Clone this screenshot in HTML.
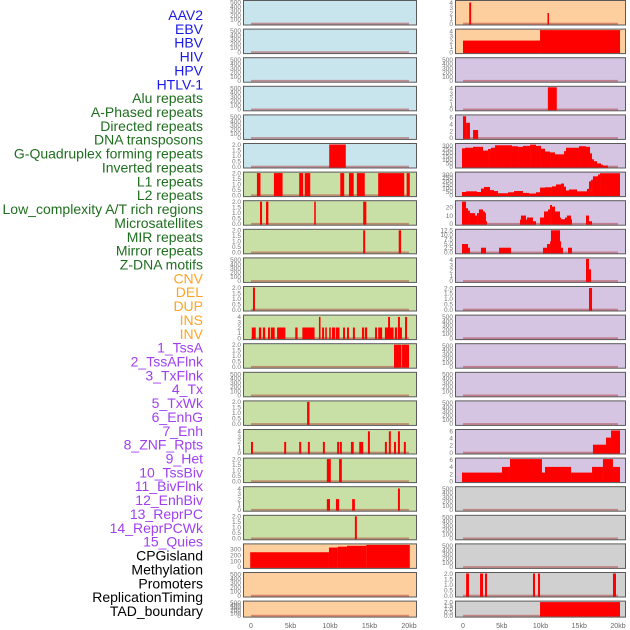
<!DOCTYPE html>
<html><head><meta charset="utf-8">
<style>
html,body{margin:0;padding:0;background:#fff;}
svg{display:block;font-family:"Liberation Sans",sans-serif;}
</style></head>
<body>
<svg id="chart" width="630" height="630" viewBox="0 0 630 630" xmlns="http://www.w3.org/2000/svg"></svg>
<script>
// ---- track labels ----
const labels = ["AAV2","EBV","HBV","HIV","HPV","HTLV-1","Alu repeats","A-Phased repeats","Directed repeats","DNA transposons","G-Quadruplex forming repeats","Inverted repeats","L1 repeats","L2 repeats","Low_complexity A/T rich regions","Microsatellites","MIR repeats","Mirror repeats","Z-DNA motifs","CNV","DEL","DUP","INS","INV","1_TssA","2_TssAFlnk","3_TxFlnk","4_Tx","5_TxWk","6_EnhG","7_Enh","8_ZNF_Rpts","9_Het","10_TssBiv","11_BivFlnk","12_EnhBiv","13_ReprPC","14_ReprPCWk","15_Quies","CPGisland","Methylation","Promoters","ReplicationTiming","TAD_boundary"];
const labelColors = ["#1a1ae6","#1a1ae6","#1a1ae6","#1a1ae6","#1a1ae6","#1a1ae6","#1f6e1f","#1f6e1f","#1f6e1f","#1f6e1f","#1f6e1f","#1f6e1f","#1f6e1f","#1f6e1f","#1f6e1f","#1f6e1f","#1f6e1f","#1f6e1f","#1f6e1f","#ffa424","#ffa424","#ffa424","#ffa424","#ffa424","#a040f0","#a040f0","#a040f0","#a040f0","#a040f0","#a040f0","#a040f0","#a040f0","#a040f0","#a040f0","#a040f0","#a040f0","#a040f0","#a040f0","#a040f0","#000","#000","#000","#000","#000"];
const xTicks = [0,5,10,15,20];
const xTickLabels = ["0","5kb","10kb","15kb","20kb"];

// ---- tick sets ----
const T500=[0,100,200,300,400,500], T2=[0,0.5,1,1.5,2], T4=[0,1,2,3,4], T6=[0,2,4,6];
const T300=[0,100,200,300], T250=[0,50,100,150,200,250,300], T20=[0,10,20], T125=[0,2.5,5,7.5,10,12.5];

// ---- data: segments [startKb, endKb, value] ----
const dHTLV=[[9.9,12.0,2]];
const dAlu=[[0.75,1.2,2],[2.9,4.0,2],[6.1,6.6,2],[6.8,7.5,2],[11.3,11.8,2],[12.4,13.0,2],[13.4,14.4,2],[16.1,19.4,2],[19.7,20.1,2]];
const dAPhased=[[1.14,1.4,2],[1.9,2.2,2],[8.0,8.2,2],[14.2,14.6,2]];
const dDirected=[[14.2,14.45,2],[18.7,19.0,2]];
const dGQuad=[[0.25,0.5,2]];
const dInverted=[[0.1,0.6,2],[1.0,1.3,2],[1.5,1.8,2],[2.15,2.4,2],[2.5,3.0,2],[3.3,4.35,2],[5.6,5.9,2],[6.5,8.05,2],[8.6,8.8,4],[9.0,9.25,2],[9.4,9.6,2],[9.9,10.1,2],[10.25,10.65,2],[10.75,11.2,2],[11.65,11.9,2],[12.15,12.4,2],[12.9,13.15,2],[14.05,14.3,2],[14.4,14.7,2],[15.7,15.95,2],[16.1,16.6,2],[16.95,18.05,2],[17.35,17.6,4],[18.2,18.5,2],[18.6,18.85,4],[18.85,19.1,2],[19.5,19.75,4]];
const dL1=[[18.1,19.05,2],[19.12,20.0,2]];
const dLowComp=[[7.1,7.4,2]];
const dMicro=[[0,0.25,2],[4.2,4.45,2],[6.1,6.35,2],[7.2,7.45,2],[9.1,9.35,2],[10.9,11.15,2],[11.25,11.5,2],[12.65,13.0,2],[13.7,14.2,2],[14.8,15.05,4],[16.95,17.2,2],[17.45,17.7,4],[18.1,18.35,2],[18.6,18.85,4],[19.35,19.6,2]];
const dMIR=[[9.6,10.1,2],[11.15,11.5,2]];
const dMirror=[[9.6,10.0,2],[10.75,11.15,2],[12.8,13.15,2],[18.6,18.85,4]];
const dZDNA=[[13.15,13.4,2]];
const dCNV=[[-0.1,9.87,250],[9.87,11.0,330],[11.0,12.15,345],[12.15,14.6,360],[14.6,20.1,375]];
const dINS=[[0.8,1.05,4],[10.9,11.1,2]];
const dINV=[[0,9.94,2.2],[9.94,20.26,4.2]];
const dTssAFlnk=[[10.95,12.1,4.2]];
const dTxFlnk=[[0,0.4,6.3],[0.4,0.9,4.4],[1.3,1.95,2.3]];
const dTx=[[-0.13,0.26,264],[0.26,1.29,273],[1.29,2.58,286],[2.58,3.23,232],[3.23,3.61,255],[3.61,4.13,273],[4.13,6.32,309],[6.32,7.10,295],[7.10,7.74,286],[7.74,8.65,300],[8.65,9.42,318],[9.42,10.06,300],[10.06,10.58,259],[10.58,11.23,218],[11.23,11.87,205],[11.87,13.03,177],[13.03,13.29,223],[13.29,14.97,273],[14.97,15.87,295],[15.87,16.39,286],[16.39,16.65,191],[16.65,16.9,105],[16.9,17.29,77],[17.29,17.81,45],[17.81,18.06,27],[18.06,18.71,14]];
const dTxWk=[[-0.13,0.39,45],[0.39,1.81,55],[1.81,2.32,45],[2.32,2.71,95],[2.71,3.48,118],[3.48,4.0,73],[4.0,4.52,59],[4.52,5.81,27],[5.81,6.58,41],[6.58,7.74,59],[7.74,8.52,32],[8.52,9.42,23],[9.42,9.94,41],[9.94,10.58,109],[10.58,11.48,114],[11.48,12.0,127],[12.0,12.65,155],[12.65,13.03,168],[13.03,13.29,123],[13.29,13.68,68],[13.68,14.71,82],[14.71,16.0,55],[16.0,16.26,91],[16.26,16.52,200],[16.52,16.77,223],[16.77,17.42,273],[17.42,17.68,300],[17.68,20.26,318]];
const dEnhG=[[-0.13,0.39,27],[0.39,0.65,19],[0.65,0.9,16],[0.9,1.55,13],[1.55,1.81,10],[1.81,2.06,13],[2.06,2.58,17.5],[2.58,2.84,15],[2.84,2.97,13],[2.97,3.1,3],[7.35,7.48,5],[7.48,8.13,10],[8.13,8.26,5],[8.26,9.03,7.6],[9.03,9.42,3],[9.94,10.45,7.6],[10.45,10.97,15],[10.97,11.23,17.5],[11.23,11.48,23],[11.48,11.87,21],[11.87,12.52,15],[12.52,12.65,7.6],[12.65,13.16,5.5],[13.16,13.42,7.6],[13.42,13.94,10],[13.94,14.06,5.5],[15.87,16.26,10],[16.26,16.65,3]];
const dEnh=[[-0.13,0.65,4.7],[0.65,0.9,2.6],[2.32,2.97,2.6],[4.65,6.19,2.6],[10.32,10.84,2.6],[10.84,11.23,4.7],[11.23,11.35,6.25],[11.35,12.52,12.5],[12.4,12.65,6.25],[12.65,12.9,2.6],[13.55,14.06,2.6]];
const dZNF=[[15.87,16.26,4.2],[16.26,16.52,2.2]];
const dHet=[[16.26,16.65,2.0]];
const dReprPCWk=[[16.77,18.45,2.2],[18.45,19.1,4.2],[19.1,20.26,6.2]];
const dQuies=[[-0.13,5.03,2.4],[5.03,6.06,4.0],[6.06,10.19,6.2],[10.19,10.58,2.4],[10.58,13.94,4.0],[13.94,16.65,2.4],[16.65,18.06,4.0],[18.06,19.35,6.2],[19.35,20.26,4.0]];
const dRepl=[[0.4,0.77,2],[2.2,2.58,2],[2.84,3.1,2],[9.03,9.29,2],[9.68,9.94,2],[19.35,19.74,2]];
const dTAD=[[9.94,20.26,2]];

const BLUE="#c8e4ec", GREEN="#c8e0a6", ORANGE="#fecf9e", PURPLE="#d5c5e2", GREY="#d0d0d0";
function row(bg,ticks,ymax,data,fmt){return {bg,ticks,ymax,data,fmt:fmt||0};}
const leftRows=[
 row(BLUE,T500,520,[]),row(BLUE,T500,520,[]),row(BLUE,T500,520,[]),row(BLUE,T500,520,[]),row(BLUE,T500,520,[]),
 row(BLUE,T2,2,dHTLV,1),
 row(GREEN,T2,2,dAlu,1),row(GREEN,T2,2,dAPhased,1),row(GREEN,T2,2,dDirected,1),row(GREEN,T500,520,[]),
 row(GREEN,T2,2,dGQuad,1),row(GREEN,T4,4.15,dInverted),row(GREEN,T2,2,dL1,1),row(GREEN,T500,520,[]),
 row(GREEN,T2,2,dLowComp,1),row(GREEN,T4,4.15,dMicro),row(GREEN,T2,2,dMIR,1),row(GREEN,T4,4.15,dMirror),row(GREEN,T2,2,dZDNA,1),
 row(ORANGE,T300,375,dCNV),row(ORANGE,T500,520,[]),row(ORANGE,T500,520,[])
];
const rightRows=[
 row(ORANGE,T4,4.2,dINS),row(ORANGE,T4,4.2,dINV),
 row(PURPLE,T500,520,[]),row(PURPLE,T4,4.2,dTssAFlnk),row(PURPLE,T6,6.4,dTxFlnk),
 row(PURPLE,T250,320,dTx),row(PURPLE,T250,320,dTxWk),row(PURPLE,T20,27,dEnhG),row(PURPLE,T125,12.5,dEnh,1),
 row(PURPLE,T4,4.2,dZNF),row(PURPLE,T2,2.05,dHet,1),
 row(PURPLE,T500,520,[]),row(PURPLE,T500,520,[]),row(PURPLE,T500,520,[]),row(PURPLE,T500,520,[]),
 row(PURPLE,T6,6.2,dReprPCWk),row(PURPLE,T6,6.2,dQuies),
 row(GREY,T500,520,[]),row(GREY,T500,520,[]),row(GREY,T500,520,[]),
 row(GREY,T2,2,dRepl,1),row(GREY,T2,2,dTAD,1)
];

const NS="http://www.w3.org/2000/svg";
const svg=document.getElementById('chart');
function el(tag,attrs,parent){const e=document.createElementNS(NS,tag);for(const k in attrs)e.setAttribute(k,attrs[k]);(parent||svg).appendChild(e);return e;}

// labels
labels.forEach((t,i)=>{
  const e=el('text',{x:203,y:15+i*13.86+5,'text-anchor':'end','font-size':14,fill:labelColors[i]});
  e.textContent=t;
  
  
});

const cols=[
 {rows:leftRows,x0:243,w:174,ox:251,sx:7.9,name:'left'},
 {rows:rightRows,x0:455,w:171,ox:463,sx:7.75,name:'right'}
];
cols.forEach(col=>{
  const xs=kb=>col.ox+kb*col.sx;
  col.rows.forEach((r,i)=>{
    const top=i*28.6+0.5, h=(i===21?16:24.5);
    const base=top+h-1.5;
    const ys=v=>base-v/r.ymax*(h-2.5);
    const g=el('g',{});
    
    
    el('rect',{x:col.x0,y:top,width:col.w,height:h,fill:r.bg},g);
    el('rect',{x:xs(0),y:base-0.8,width:xs(20)-xs(0),height:1.8,fill:'rgba(170,40,40,0.45)'},g);
    r.data.forEach(d=>{
      const b=el('rect',{x:xs(d[0]),y:ys(d[2]),width:Math.max(0.8,xs(d[1])-xs(d[0])),height:base-ys(d[2])+1,fill:'#ff0000'},g);
      
      
    });
    el('rect',{x:col.x0+0.5,y:top,width:col.w-1,height:h,fill:'none',stroke:'#5a5a5a','stroke-width':1},g);
    r.ticks.forEach(t=>{
      const tx=el('text',{x:col.x0-2,y:ys(t)+2.3,'text-anchor':'end','font-size':6.5,fill:'#777'},g);
      tx.textContent=r.fmt?t.toFixed(1):String(t);
      
      
    });
  });
  xTicks.forEach((t,k)=>{
    const tx=el('text',{x:xs(t),y:628,'text-anchor':'middle','font-size':7,fill:'#666'});
    tx.textContent=xTickLabels[k];
    
    
  });
});
</script>
</body></html>
